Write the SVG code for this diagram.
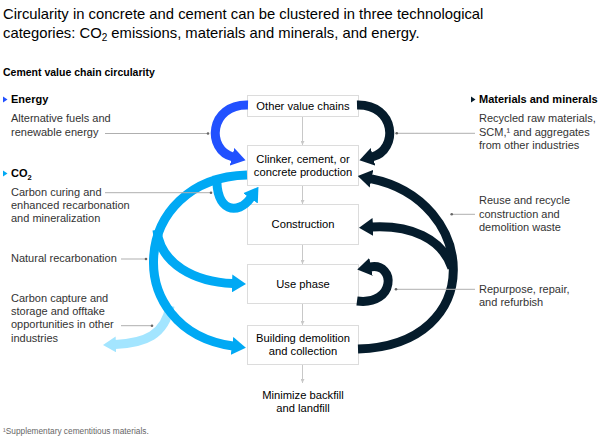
<svg xmlns="http://www.w3.org/2000/svg" width="600" height="441" viewBox="0 0 600 441">
<style>
text{font-family:"Liberation Sans",Arial,sans-serif;}
.title{font-size:14.8px;fill:#000;}
.sub{font-size:10.5px;font-weight:bold;fill:#000;}
.head{font-size:11px;font-weight:bold;fill:#000;}
.desc{font-size:11px;fill:#333;}
.box rect{fill:#fff;stroke:#DCDCDC;stroke-width:1;}
.box text{font-size:11.2px;fill:#000;text-anchor:middle;}
.foot{font-size:8.3px;fill:#666;}
.lead{stroke:#AFAFAF;stroke-width:1;fill:none;}
.dot{fill:#666;}
.flow{fill:none;stroke-width:9;stroke-linecap:butt;}
.vc{stroke:#C8C8C8;stroke-width:1;fill:none;marker-end:url(#sm);}
</style>
<defs>
<marker id="aB" markerUnits="userSpaceOnUse" viewBox="0 -9 14 18" markerWidth="14" markerHeight="18" refX="1" refY="0" orient="auto"><path d="M0,-9 L14,0 L0,9 z" fill="#2251FF"/></marker>
<marker id="aN" markerUnits="userSpaceOnUse" viewBox="0 -9 14 18" markerWidth="14" markerHeight="18" refX="1" refY="0" orient="auto"><path d="M0,-9 L14,0 L0,9 z" fill="#051C2C"/></marker>
<marker id="aC" markerUnits="userSpaceOnUse" viewBox="0 -9 14 18" markerWidth="14" markerHeight="18" refX="1" refY="0" orient="auto"><path d="M0,-9 L14,0 L0,9 z" fill="#00A9F4"/></marker>
<marker id="aL" markerUnits="userSpaceOnUse" viewBox="0 -8 13 16" markerWidth="13" markerHeight="16" refX="1" refY="0" orient="auto"><path d="M0,-8 L13,0 L0,8 z" fill="#A3E5FF"/></marker>
<marker id="sm" markerUnits="userSpaceOnUse" viewBox="0 -2 4 4" markerWidth="4" markerHeight="4" refX="4" refY="0" orient="auto"><path d="M0,-2 L4,0 L0,2 z" fill="#C8C8C8"/></marker>
</defs>

<g id="title">
<text class="title" x="3" y="18.5">Circularity in concrete and cement can be clustered in three technological</text>
<text class="title" x="3" y="38">categories: CO<tspan font-size="10px" dy="3">2</tspan><tspan dy="-3"> emissions, materials and minerals, and energy.</tspan></text>
<text class="sub" x="3" y="76">Cement value chain circularity</text>
</g>

<g id="nodes">
<g id="n-other" class="box"><rect x="247.5" y="95.5" width="111" height="21"/><text x="303" y="110">Other value chains</text></g>
<g id="n-clinker" class="box"><rect x="247.5" y="145.5" width="111" height="40"/><text x="303" y="162.7">Clinker, cement, or</text><text x="303" y="175.5">concrete production</text></g>
<g id="n-construction" class="box"><rect x="247.5" y="204.5" width="111" height="40"/><text x="303" y="227.7">Construction</text></g>
<g id="n-use" class="box"><rect x="247.5" y="264.5" width="111" height="39"/><text x="303" y="288.3">Use phase</text></g>
<g id="n-demolition" class="box"><rect x="247.5" y="325.5" width="111" height="39"/><text x="303" y="342.3">Building demolition</text><text x="303" y="355.3">and collection</text></g>
<g id="n-landfill" class="box"><text x="303" y="399">Minimize backfill</text><text x="303" y="411.5">and landfill</text></g>
</g>

<g id="connectors">
<path class="vc" d="M302.5,117 V145"/>
<path class="vc" d="M302.5,186 V204"/>
<path class="vc" d="M302.5,245 V264"/>
<path class="vc" d="M302.5,304 V325"/>
<path class="vc" d="M302.5,365 V383"/>
<path class="flow" stroke="#2251FF" marker-end="url(#aB)" d="M248,105 C209,104 206,150 233,157"/>
<path class="flow" stroke="#051C2C" marker-end="url(#aN)" d="M357,105 C396,104 399,150 372,157"/>
<path class="flow" stroke="#A3E5FF" stroke-width="7.5" marker-end="url(#aL)" d="M170,306 C165,335 145,343 115,344.5"/>
<path class="flow" stroke="#00A9F4" marker-end="url(#aC)" d="M247,175 C130,178 120,330 233,346"/>
<path class="flow" stroke="#00A9F4" marker-end="url(#aC)" d="M157,230 C160,264 195,282 233,283.5"/>
<path class="flow" stroke="#00A9F4" marker-end="url(#aC)" d="M217,176 C215,212 238,216 251,197.5"/>
<path class="flow" stroke="#051C2C" marker-end="url(#aN)" d="M358,349 C488,345 478,200 370.5,178.6"/>
<path class="flow" stroke="#051C2C" marker-end="url(#aN)" d="M452,268 C442,238 410,225 372,227"/>
<path class="flow" stroke="#051C2C" marker-end="url(#aN)" d="M357,301 C396,306 396,262 370,267"/>
</g>

<g id="legend-left">
<path d="M3,96.5 L7.5,99.5 L3,102.5 z" fill="#2251FF"/>
<text class="head" x="11" y="103">Energy</text>
<text class="desc" x="11" y="122.3">Alternative fuels and</text>
<text class="desc" x="11" y="135.7">renewable energy</text>
<path class="lead" d="M105,133.5 H208"/><circle class="dot" cx="208" cy="133.5" r="1.3"/>

<path d="M3,170.5 L7.5,173.5 L3,176.5 z" fill="#00A9F4"/>
<text class="head" x="11" y="177">CO<tspan font-size="7.5px" dy="2.5">2</tspan></text>
<text class="desc" x="11" y="195.7">Carbon curing and</text>
<text class="desc" x="11" y="209">enhanced recarbonation</text>
<text class="desc" x="11" y="222.3">and mineralization</text>
<path class="lead" d="M105,192.7 H211"/><circle class="dot" cx="211" cy="192.7" r="1.3"/>

<text class="desc" x="11" y="261.7">Natural recarbonation</text>
<path class="lead" d="M121,259 H146"/><circle class="dot" cx="146" cy="259" r="1.3"/>

<text class="desc" x="11" y="301.7">Carbon capture and</text>
<text class="desc" x="11" y="315">storage and offtake</text>
<text class="desc" x="11" y="328.3">opportunities in other</text>
<text class="desc" x="11" y="341.7">industries</text>
<path class="lead" d="M121,325.7 H152"/><circle class="dot" cx="152" cy="325.7" r="1.3"/>
</g>

<g id="legend-right">
<path d="M471,96.5 L475.5,99.5 L471,102.5 z" fill="#051C2C"/>
<text class="head" x="479" y="102.5">Materials and minerals</text>
<text class="desc" x="479" y="122.3">Recycled raw materials,</text>
<text class="desc" x="479" y="135.7">SCM,¹ and aggregates</text>
<text class="desc" x="479" y="149">from other industries</text>
<path class="lead" d="M396.7,133.3 H475"/><circle class="dot" cx="396.7" cy="133.3" r="1.3"/>

<text class="desc" x="479" y="204.3">Reuse and recycle</text>
<text class="desc" x="479" y="217.7">construction and</text>
<text class="desc" x="479" y="231">demolition waste</text>
<path class="lead" d="M451.7,214.3 H475"/><circle class="dot" cx="451.7" cy="214.3" r="1.3"/>

<text class="desc" x="479" y="292.7">Repurpose, repair,</text>
<text class="desc" x="479" y="305.5">and refurbish</text>
<path class="lead" d="M396,289.3 H475"/><circle class="dot" cx="396" cy="289.3" r="1.3"/>
</g>

<text class="foot" x="3" y="434">¹Supplementary cementitious materials.</text>
</svg>
